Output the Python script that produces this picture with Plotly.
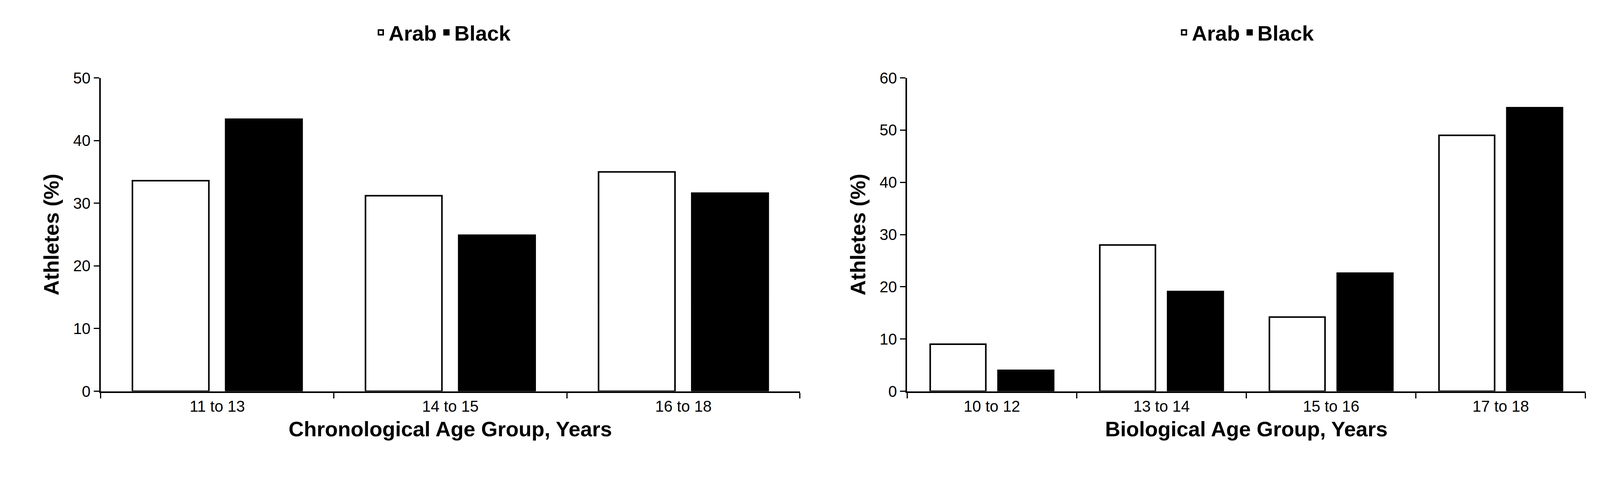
import plotly.graph_objects as go

# chronological age panel
chrono_groups = ["11 to 13", "14 to 15", "16 to 18"]
chrono_arab = [33.6, 31.2, 35.0]
chrono_black = [43.4, 24.9, 31.6]

# biological age panel
bio_groups = ["10 to 12", "13 to 14", "15 to 16", "17 to 18"]
bio_arab = [9.0, 28.0, 14.2, 49.0]
bio_black = [4.0, 19.1, 22.6, 54.3]

font = "Liberation Sans, Arial, sans-serif"
fig = go.Figure()

fig.add_trace(go.Bar(x=chrono_groups, y=chrono_arab, name="<b>Arab</b>", marker=dict(color="white", line=dict(color="black", width=4)), legend="legend"))
fig.add_trace(go.Bar(x=chrono_groups, y=chrono_black, name="<b>Black</b>", marker=dict(color="black", line=dict(color="black", width=4)), legend="legend"))
fig.add_trace(go.Bar(x=bio_groups, y=bio_arab, name="<b>Arab</b>", marker=dict(color="white", line=dict(color="black", width=4)), xaxis="x2", yaxis="y2", legend="legend2"))
fig.add_trace(go.Bar(x=bio_groups, y=bio_black, name="<b>Black</b>", marker=dict(color="black", line=dict(color="black", width=4)), xaxis="x2", yaxis="y2", legend="legend2"))

axis_common = dict(showline=True, linecolor="black", linewidth=4, ticks="outside", tickwidth=3, ticklen=14,
                   tickcolor="black", showgrid=False, zeroline=False, tickfont=dict(size=40, color="black", family=font))
title_font = dict(size=54, color="black", family=font)

legend_common = dict(orientation="h", xanchor="center", yanchor="middle", font=dict(size=54, color="black", family=font),
                     itemwidth=30, bgcolor="rgba(0,0,0,0)", traceorder="normal")

fig.update_layout(
    autosize=True, plot_bgcolor="white", paper_bgcolor="white",
    barmode="group", bargap=0.2, bargroupgap=0.18,
    margin=dict(l=0, r=0, t=0, b=0),
    xaxis=dict(domain=[0.061, 0.498], anchor="y", tickson="boundaries",
               title=dict(text="<b>Chronological Age Group, Years</b>", font=title_font, standoff=20), **axis_common),
    yaxis=dict(domain=[0.18, 0.857], anchor="x", range=[0, 50], dtick=10,
               title=dict(text="<b>Athletes (%)</b>", font=title_font, standoff=20), **axis_common),
    xaxis2=dict(domain=[0.565, 0.989], anchor="y2", tickson="boundaries",
                title=dict(text="<b>Biological Age Group, Years</b>", font=title_font, standoff=20), **axis_common),
    yaxis2=dict(domain=[0.18, 0.857], anchor="x2", range=[0, 60], dtick=10,
                title=dict(text="<b>Athletes (%)</b>", font=title_font, standoff=20), **axis_common),
    legend=dict(x=0.275, y=0.955, **legend_common),
    legend2=dict(x=0.777, y=0.955, **legend_common),
)

fig.write_html("out.html", config={"responsive": True}, default_height="100vh", default_width="100vw")
